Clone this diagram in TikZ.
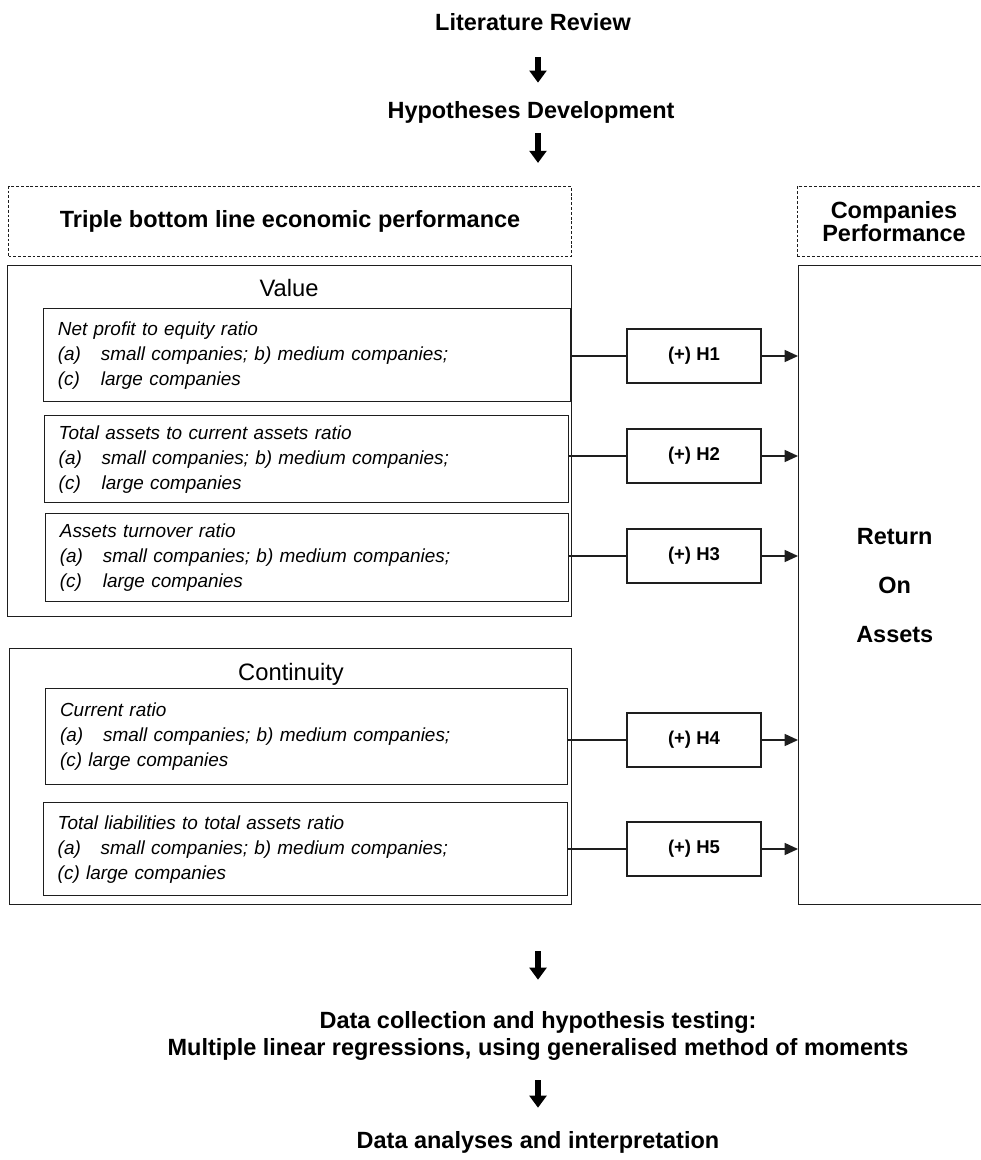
\documentclass[tikz,border=0pt]{standalone}
\usepackage{fontspec}
\setmainfont{Liberation Sans}
\usepackage{tikz}
\usetikzlibrary{arrows.meta, positioning, calc}
\usepackage{xcolor}
\definecolor{ink}{RGB}{30,30,30}

\tikzset{
  title/.style={font=\fontsize{17.6}{21}\selectfont\bfseries, inner sep=0pt, text height=13pt, text depth=4pt},
  grouptitle/.style={font=\fontsize{17.8}{21}\selectfont, inner sep=0pt, anchor=base},
  dashbox/.style={draw=ink, dash pattern=on 2.2pt off 1.4pt, line width=0.8pt, align=center,
    font=\fontsize{17.6}{17.3}\selectfont\bfseries},
  group/.style={draw=ink, line width=1.1pt, anchor=north west},
  ratio/.style={draw=ink, line width=1.1pt, anchor=north west, align=left, inner xsep=10.5pt,
    font=\fontsize{14.2}{18.75}\selectfont\itshape},
  hyp/.style={draw=ink, line width=1.1pt, minimum width=100.5pt, minimum height=40.5pt,
    font=\fontsize{13.9}{16}\selectfont\bfseries},
  bigarrow/.style={line width=4.5pt, -{Triangle[length=9pt,width=12.5pt]}},
  link/.style={draw=ink, line width=1.1pt},
  feed/.style={draw=ink, line width=1.1pt, -{Triangle[length=10pt,width=9pt]}},
}
\newcommand{\lbl}[1]{\makebox[32.25pt][l]{#1}}

\begin{document}
\begin{tikzpicture}[x=0.75pt, y=-0.75pt]
  \useasboundingbox (0,0) rectangle (981,1160);
  \clip (0,0) rectangle (981,1160);
  \coordinate (spine) at (538,0);

  % top of the chain
  \node[title, anchor=base] (lit) at (533,30.4) {Literature Review};
  \node[title, anchor=base] (hypdev) at (531,118) {Hypotheses Development};

  % headings
  \node[dashbox, anchor=north west, minimum width=422.25pt, minimum height=52.5pt] (tbl) at (8,186)
    {Triple bottom line economic performance};
  \node[dashbox, anchor=north west, minimum width=144.75pt, minimum height=52.5pt] (perf) at (797,186)
    {Companies\\Performance};

  % Value
  \node[group, minimum width=423pt, minimum height=263.25pt] (value) at (7,265) {};
  \node[grouptitle] (valuelbl) at (289,296.5) {Value};
  \node[ratio, minimum width=395.25pt, minimum height=69.75pt, text width=374pt] (sub1) at (43,308)
    {Net profit to equity ratio\\\lbl{(a)}small companies; b) medium companies;\\\lbl{(c)}large companies};
  \node[ratio, minimum width=393pt, minimum height=65.25pt, text width=372pt] (sub2) at (44,415)
    {Total assets to current assets ratio\\\lbl{(a)}small companies; b) medium companies;\\\lbl{(c)}large companies};
  \node[ratio, minimum width=392.25pt, minimum height=66pt, text width=371pt] (sub3) at (45,513)
    {Assets turnover ratio\\\lbl{(a)}small companies; b) medium companies;\\\lbl{(c)}large companies};

  % Continuity
  \node[group, minimum width=421.5pt, minimum height=192pt] (cont) at (9,648) {};
  \node[grouptitle] (contlbl) at (291,680.5) {Continuity};
  \node[ratio, minimum width=391.5pt, minimum height=72pt, text width=370pt] (sub4) at (45,688)
    {Current ratio\\\lbl{(a)}small companies; b) medium companies;\\(c) large companies};
  \node[ratio, minimum width=393pt, minimum height=69.75pt, text width=372pt] (sub5) at (43,802)
    {Total liabilities to total assets ratio\\\lbl{(a)}small companies; b) medium companies;\\(c) large companies};

  % Return on assets
  \node[group, minimum width=144pt, minimum height=479.25pt, align=center,
    font=\fontsize{17.6}{36.75}\selectfont\bfseries] (roa) at (798,265) {Return\\On\\Assets};

  % hypotheses
  \node[hyp] (h1) at (694,356) {(+) H1};
  \node[hyp] (h2) at (694,456) {(+) H2};
  \node[hyp] (h3) at (694,556) {(+) H3};
  \node[hyp] (h4) at (694,740) {(+) H4};
  \node[hyp] (h5) at (694,849) {(+) H5};
  \foreach \s/\h in {sub1/h1, sub2/h2, sub3/h3, sub4/h4, sub5/h5} {
    \draw[link] (\s.east |- \h.west) -- (\h.west);
    \draw[feed] (\h.east) -- (\h.east -| roa.west);
  }

  % bottom of the chain
  \node[title, anchor=base] (data1) at (538,1028) {Data collection and hypothesis testing:};
  \node[title, anchor=base] (data2) at (538,1055) {Multiple linear regressions, using generalised method of moments};
  \node[title, anchor=base] (analyses) at (538,1148) {Data analyses and interpretation};

  % block arrows
  \draw[bigarrow, shorten <=16pt, shorten >=13.3pt] (lit.south -| spine) -- (hypdev.north -| spine);
  \draw[bigarrow, shorten <=7.3pt, shorten >=17.3pt] (hypdev.south -| spine) -- (tbl.north -| spine);
  \draw[bigarrow, shorten <=34.5pt, shorten >=23pt] (cont.south -| spine) -- (data1.north -| spine);
  \draw[bigarrow, shorten <=14.8pt, shorten >=17pt] (data2.south -| spine) -- (analyses.north -| spine);
\end{tikzpicture}
\end{document}
